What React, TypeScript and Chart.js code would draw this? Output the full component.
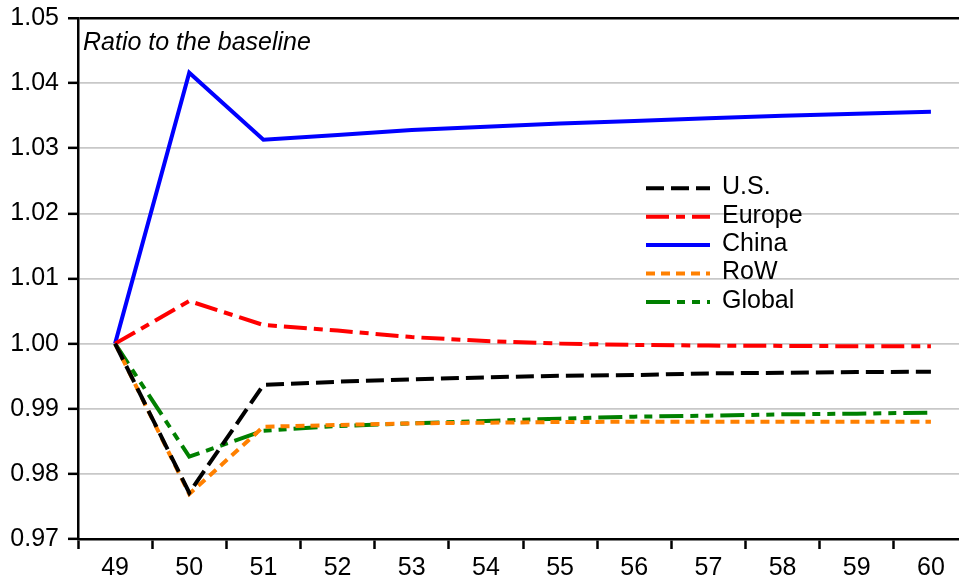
import React, { useEffect, useRef } from "react";
import { Chart, registerables } from "chart.js";

Chart.register(...registerables);

const periods = ["49", "50", "51", "52", "53", "54", "55", "56", "57", "58", "59", "60"];
const usValues = [1.0, 0.9771, 0.99365, 0.99415, 0.99451, 0.99482, 0.99507, 0.99517, 0.99543, 0.99553, 0.99563, 0.99569];
const europeValues = [1.0, 1.00654, 1.00286, 1.0020, 1.0010, 1.0004, 1.0000, 0.9998, 0.9997, 0.99965, 0.9996, 0.9996];
const chinaValues = [1.0, 1.0416, 1.0313, 1.03203, 1.0328, 1.0333, 1.0338, 1.0342, 1.0346, 1.035, 1.0353, 1.0356];
const rowValues = [1.0, 0.9769, 0.98724, 0.9875, 0.98776, 0.98786, 0.98796, 0.98801, 0.98801, 0.98801, 0.98801, 0.98801];
const globalValues = [1.0, 0.98264, 0.98663, 0.98735, 0.98776, 0.98812, 0.98848, 0.98879, 0.98894, 0.98914, 0.98925, 0.9894];

const seriesNames = ["U.S.", "Europe", "China", "RoW", "Global"];
const seriesColors = ["#000000", "#ff0000", "#0000ff", "#ff8000", "#008000"];
const seriesDashes: number[][] = [[18, 7], [23, 7, 9, 7], [], [9, 6], [24, 7, 8, 7, 8, 7]];
const seriesValues = [usValues, europeValues, chinaValues, rowValues, globalValues];

const yMin = 0.97;
const yMax = 1.05;
const yStep = 0.01;
const annotationText = "Ratio to the baseline";

const FONT = "'Liberation Sans', Arial, sans-serif";

const overlayPlugin = {
  id: "overlay",
  afterDraw(chart: any) {
    const ctx = chart.ctx;
    const area = chart.chartArea;
    ctx.save();
    ctx.fillStyle = "#000";
    ctx.font = `italic 25px ${FONT}`;
    ctx.textAlign = "left";
    ctx.textBaseline = "alphabetic";
    ctx.fillText(annotationText, area.left + 5, area.top + 32);
    const lx0 = 646;
    const lx1 = 710;
    const tx = 722;
    const y0 = 188.3;
    const dy = 28.4;
    ctx.font = `25px ${FONT}`;
    ctx.textBaseline = "middle";
    seriesNames.forEach((name, i) => {
      const y = y0 + i * dy;
      ctx.beginPath();
      ctx.setLineDash(seriesDashes[i]);
      ctx.strokeStyle = seriesColors[i];
      ctx.lineWidth = 4;
      ctx.lineCap = "butt";
      ctx.moveTo(lx0, y);
      ctx.lineTo(lx1, y);
      ctx.stroke();
      ctx.setLineDash([]);
      ctx.fillStyle = "#000";
      ctx.fillText(name, tx, y - 1);
    });
    ctx.restore();
  },
};

export default function App() {
  const ref = useRef<HTMLCanvasElement | null>(null);

  useEffect(() => {
    document.body.style.margin = "0";
    const canvas = ref.current;
    if (!canvas) return;
    const isTop = (v: number) => Math.abs(v - yMax) < 1e-6;
    const chart = new Chart(canvas, {
      type: "line",
      data: {
        labels: periods,
        datasets: seriesNames.map((name, i) => ({
          label: name,
          data: seriesValues[i],
          borderColor: seriesColors[i],
          backgroundColor: seriesColors[i],
          borderDash: seriesDashes[i],
          borderWidth: 4,
          pointRadius: 0,
          tension: 0,
          fill: false,
        })),
      },
      options: {
        animation: false,
        responsive: false,
        devicePixelRatio: 1,
        layout: { padding: { top: 18, right: 4, left: 0, bottom: 0 } },
        plugins: {
          legend: { display: false },
          tooltip: { enabled: false },
          title: { display: false },
        },
        scales: {
          x: {
            type: "category",
            offset: true,
            grid: {
              offset: true,
              drawOnChartArea: false,
              drawTicks: true,
              tickLength: 10,
              tickColor: "#000",
              tickWidth: 2.5,
            },
            border: { display: true, color: "#000", width: 2.5 },
            ticks: {
              color: "#000",
              font: { family: FONT, size: 25 },
              padding: 4,
              maxRotation: 0,
              autoSkip: false,
            },
            afterFit(scale: any) {
              scale.height = 38;
              scale.paddingLeft = 0;
              scale.paddingRight = 0;
            },
          },
          y: {
            type: "linear",
            min: yMin,
            max: yMax,
            grid: {
              color: (c: any) => (c.tick && isTop(c.tick.value) ? "#000" : "#c8c8c8"),
              lineWidth: (c: any) => (c.tick && isTop(c.tick.value) ? 2.5 : 1.7),
              drawTicks: true,
              tickLength: 10,
              tickColor: "#000",
              tickWidth: 2.5,
            },
            border: { display: true, color: "#000", width: 2.5 },
            ticks: {
              stepSize: yStep,
              color: "#000",
              font: { family: FONT, size: 25 },
              padding: 9,
              callback: (v: any) => Number(v).toFixed(2),
            },
            afterFit(scale: any) {
              scale.width = 78;
              scale.paddingTop = 0;
              scale.paddingBottom = 0;
            },
          },
        },
      },
      plugins: [overlayPlugin],
    } as any);
    return () => chart.destroy();
  }, []);

  return (
    <div style={{ width: 959, height: 577, overflow: "hidden", position: "relative", background: "#fff" }}>
      <canvas ref={ref} width={972} height={577} style={{ display: "block", width: 972, height: 577 }} />
    </div>
  );
}
